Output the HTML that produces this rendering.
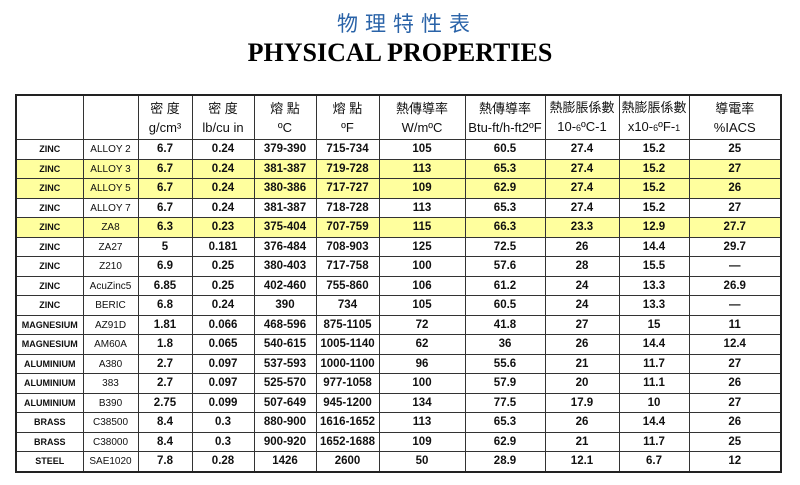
<!DOCTYPE html>
<html><head><meta charset="utf-8"><style>
body{margin:0;width:800px;height:485px;background:#fff;position:relative;overflow:hidden;font-family:"Liberation Sans","Noto Sans CJK TC",sans-serif}
.t1{position:absolute;left:0;width:800px;top:11px;text-align:center;color:#2a63a8;font-size:21px;letter-spacing:7px;line-height:28px;padding-left:7px;font-family:"Liberation Sans","Noto Sans CJK TC",sans-serif}
.t2{position:absolute;left:0;width:800px;top:38px;text-align:center;font-family:"Liberation Serif",serif;font-weight:bold;font-size:26px;line-height:30px;color:#000}
table{position:absolute;left:15px;top:94px;border-collapse:collapse;table-layout:fixed;border:2px solid #222}
td{border:1px solid #333;text-align:center;vertical-align:middle;padding:0;font-size:11.5px;font-weight:bold;height:18.5px;line-height:18px;color:#111}
td.a{font-size:9px}
td.b{font-size:10px;font-weight:normal}
td.b span{display:block;height:18px;line-height:19px}
tr.h td{height:43px;font-weight:normal;font-size:13px;line-height:19px}
tr.h td small{font-size:9px}
tr.y td{background:#ffff9e}
</style></head><body>
<div class="t1">物理特性表</div>
<div class="t2">PHYSICAL PROPERTIES</div>
<table>
<colgroup><col style="width:67px"><col style="width:55px"><col style="width:54px"><col style="width:62px"><col style="width:62px"><col style="width:63px"><col style="width:86px"><col style="width:80px"><col style="width:74px"><col style="width:70px"><col style="width:92px"></colgroup>
<tr class="h"><td></td><td></td><td>密 度<br>g/cm³</td><td>密 度<br>lb/cu in</td><td>熔 點<br>ºC</td><td>熔 點<br>ºF</td><td>熱傳導率<br>W/mºC</td><td>熱傳導率<br>Btu-ft/h-ft2ºF</td><td>熱膨脹係數<br>10-<small>6</small>ºC-1</td><td>熱膨脹係數<br>x10-<small>6</small>ºF-<small>1</small></td><td>導電率<br>%IACS</td></tr>
<tr><td class="a">ZINC</td><td class="b"><span>ALLOY 2</span></td><td>6.7</td><td>0.24</td><td>379-390</td><td>715-734</td><td>105</td><td>60.5</td><td>27.4</td><td>15.2</td><td>25</td></tr>
<tr class="y"><td class="a">ZINC</td><td class="b"><span>ALLOY 3</span></td><td>6.7</td><td>0.24</td><td>381-387</td><td>719-728</td><td>113</td><td>65.3</td><td>27.4</td><td>15.2</td><td>27</td></tr>
<tr class="y"><td class="a">ZINC</td><td class="b"><span>ALLOY 5</span></td><td>6.7</td><td>0.24</td><td>380-386</td><td>717-727</td><td>109</td><td>62.9</td><td>27.4</td><td>15.2</td><td>26</td></tr>
<tr><td class="a">ZINC</td><td class="b"><span>ALLOY 7</span></td><td>6.7</td><td>0.24</td><td>381-387</td><td>718-728</td><td>113</td><td>65.3</td><td>27.4</td><td>15.2</td><td>27</td></tr>
<tr class="y"><td class="a">ZINC</td><td class="b"><span>ZA8</span></td><td>6.3</td><td>0.23</td><td>375-404</td><td>707-759</td><td>115</td><td>66.3</td><td>23.3</td><td>12.9</td><td>27.7</td></tr>
<tr><td class="a">ZINC</td><td class="b"><span>ZA27</span></td><td>5</td><td>0.181</td><td>376-484</td><td>708-903</td><td>125</td><td>72.5</td><td>26</td><td>14.4</td><td>29.7</td></tr>
<tr><td class="a">ZINC</td><td class="b"><span>Z210</span></td><td>6.9</td><td>0.25</td><td>380-403</td><td>717-758</td><td>100</td><td>57.6</td><td>28</td><td>15.5</td><td>—</td></tr>
<tr><td class="a">ZINC</td><td class="b"><span>AcuZinc5</span></td><td>6.85</td><td>0.25</td><td>402-460</td><td>755-860</td><td>106</td><td>61.2</td><td>24</td><td>13.3</td><td>26.9</td></tr>
<tr><td class="a">ZINC</td><td class="b"><span>BERIC</span></td><td>6.8</td><td>0.24</td><td>390</td><td>734</td><td>105</td><td>60.5</td><td>24</td><td>13.3</td><td>—</td></tr>
<tr><td class="a">MAGNESIUM</td><td class="b"><span>AZ91D</span></td><td>1.81</td><td>0.066</td><td>468-596</td><td>875-1105</td><td>72</td><td>41.8</td><td>27</td><td>15</td><td>11</td></tr>
<tr><td class="a">MAGNESIUM</td><td class="b"><span>AM60A</span></td><td>1.8</td><td>0.065</td><td>540-615</td><td>1005-1140</td><td>62</td><td>36</td><td>26</td><td>14.4</td><td>12.4</td></tr>
<tr><td class="a">ALUMINIUM</td><td class="b"><span>A380</span></td><td>2.7</td><td>0.097</td><td>537-593</td><td>1000-1100</td><td>96</td><td>55.6</td><td>21</td><td>11.7</td><td>27</td></tr>
<tr><td class="a">ALUMINIUM</td><td class="b"><span>383</span></td><td>2.7</td><td>0.097</td><td>525-570</td><td>977-1058</td><td>100</td><td>57.9</td><td>20</td><td>11.1</td><td>26</td></tr>
<tr><td class="a">ALUMINIUM</td><td class="b"><span>B390</span></td><td>2.75</td><td>0.099</td><td>507-649</td><td>945-1200</td><td>134</td><td>77.5</td><td>17.9</td><td>10</td><td>27</td></tr>
<tr><td class="a">BRASS</td><td class="b"><span>C38500</span></td><td>8.4</td><td>0.3</td><td>880-900</td><td>1616-1652</td><td>113</td><td>65.3</td><td>26</td><td>14.4</td><td>26</td></tr>
<tr><td class="a">BRASS</td><td class="b"><span>C38000</span></td><td>8.4</td><td>0.3</td><td>900-920</td><td>1652-1688</td><td>109</td><td>62.9</td><td>21</td><td>11.7</td><td>25</td></tr>
<tr><td class="a">STEEL</td><td class="b"><span>SAE1020</span></td><td>7.8</td><td>0.28</td><td>1426</td><td>2600</td><td>50</td><td>28.9</td><td>12.1</td><td>6.7</td><td>12</td></tr>
</table>
</body></html>
